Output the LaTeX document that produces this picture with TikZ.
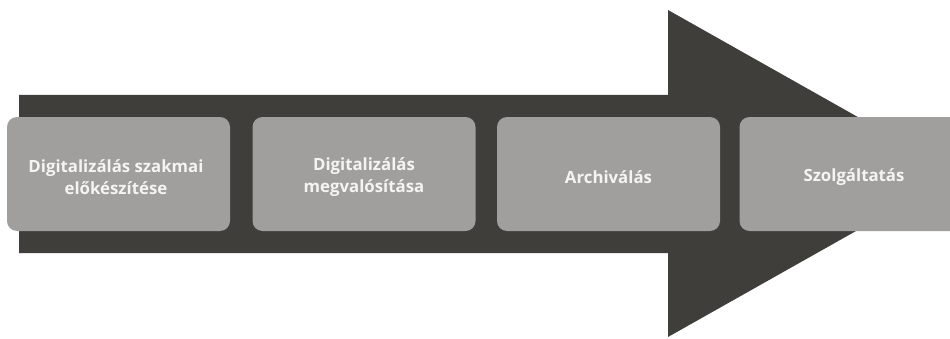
\documentclass[tikz,border=0pt]{standalone}
\usepackage{fontspec}
\setmainfont{Open Sans}
\definecolor{arrowdark}{HTML}{403E3B}
\definecolor{boxgrey}{HTML}{A19F9D}
\definecolor{boxtext}{HTML}{F4F4F4}
\begin{document}
\begin{tikzpicture}[x=1pt,y=1pt,
  stage/.style={fill=boxgrey, rounded corners=10pt, minimum width=223pt, minimum height=114pt, inner sep=0pt},
  stagetext/.style={inner sep=0pt, text=boxtext, align=center, font=\fontsize{16.8}{21.5}\selectfont\bfseries}]
\useasboundingbox (0,0) rectangle (950,338);
\clip (0,0) rectangle (950,338);
% big arrow
\fill[arrowdark] (19,243) -- (668,243) -- (668,328) -- (958,164.5) -- (668,1) -- (668,85) -- (19,85) -- cycle;
% stages
\node[stage] (b1) at (118.5,164) {};
\node[stage] (b2) at (364,164) {};
\node[stage] (b3) at (608.5,164) {};
\node[stage] (b4) at (851,164) {};
\node[stagetext] (t1) at ([shift={(-2.5,-3)}]b1.center) {Digitalizálás szakmai\\előkészítése};
\node[stagetext] (t2) at ([shift={(0,-3)}]b2.center) {Digitalizálás\\megvalósítása};
\node[stagetext] (t3) at ([shift={(0,-3)}]b3.center) {Archiválás};
\node[stagetext] (t4) at ([shift={(3,-3)}]b4.center) {Szolgáltatás};
\end{tikzpicture}
\end{document}
